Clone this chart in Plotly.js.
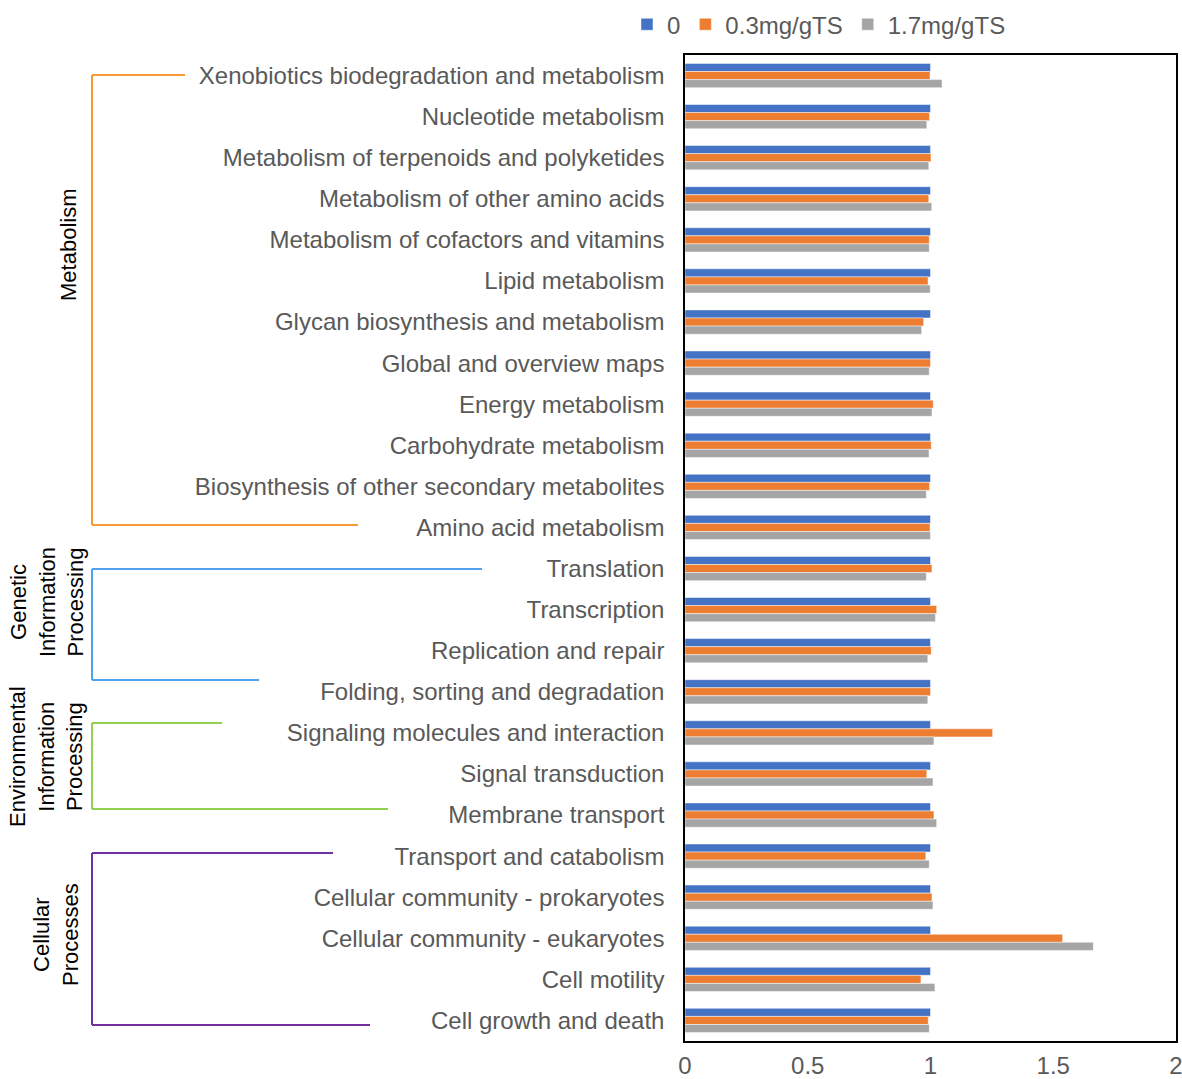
<!DOCTYPE html>
<html>
<head>
<meta charset="utf-8">
<script src="https://cdn.plot.ly/plotly-3.0.1.min.js"></script>
<style>html,body{margin:0;padding:0;background:#fff;}#chart{width:1182px;height:1079px;}</style>
</head>
<body>
<div id="chart"></div>
<script>
// KEGG level-2 pathways, listed top to bottom
const pathways = [
  "Xenobiotics biodegradation and metabolism",
  "Nucleotide metabolism",
  "Metabolism of terpenoids and polyketides",
  "Metabolism of other amino acids",
  "Metabolism of cofactors and vitamins",
  "Lipid metabolism",
  "Glycan biosynthesis and metabolism",
  "Global and overview maps",
  "Energy metabolism",
  "Carbohydrate metabolism",
  "Biosynthesis of other secondary metabolites",
  "Amino acid metabolism",
  "Translation",
  "Transcription",
  "Replication and repair",
  "Folding, sorting and degradation",
  "Signaling molecules and interaction",
  "Signal transduction",
  "Membrane transport",
  "Transport and catabolism",
  "Cellular community - prokaryotes",
  "Cellular community - eukaryotes",
  "Cell motility",
  "Cell growth and death"
];

const seriesNames = ["0", "0.3mg/gTS", "1.7mg/gTS"];

// relative abundance normalised to the control group
const control = [1,1,1,1,1,1,1,1,1,1,1,1,1,1,1,1,1,1,1,1,1,1,1,1];
const dose03 = [0.998,0.996,1.002,0.993,0.995,0.990,0.972,1.000,1.011,1.003,0.996,0.998,
                1.006,1.025,1.003,1.000,1.253,0.985,1.014,0.981,1.006,1.538,0.961,0.991];
const dose17 = [1.047,0.985,0.993,1.005,0.995,0.999,0.964,0.995,1.006,0.994,0.983,1.000,
                0.983,1.020,0.989,0.989,1.014,1.010,1.025,0.995,1.010,1.663,1.018,0.995];

const xTicks = [0, 0.5, 1, 1.5, 2];
const xTickText = ["0", "0.5", "1", "1.5", "2"];

// pathway categories with their bracket extents
const groups = ["Metabolism", "Genetic<br>Information<br>Processing",
                "Environmental<br>Information<br>Processing", "Cellular<br>Processes"];
const groupColors = ["#F79A32", "#4EA2EE", "#92D050", "#7030A0"];

const W = 1182, H = 1079;
const M = {l: 685, r: 6, t: 55, b: 38, autoexpand: false};
const pw = W - M.l - M.r, ph = H - M.t - M.b;
const px = x => (x - M.l) / pw;
const py = y => 1 - (y - M.t) / ph;

const barColors = ["#4472C4", "#ED7D31", "#A5A5A5"];
const values = [control, dose03, dose17];

const traces = values.map((v, i) => ({
  type: "bar",
  orientation: "h",
  name: seriesNames[i],
  y: pathways,
  x: v,
  marker: {color: barColors[i], line: {color: "rgba(255,255,255,0.6)", width: 0.8}},
  hoverinfo: "x+y+name"
}));

// bracket geometry in pixels: [xTopEnd, yTop, xBottomEnd, yBottom]
const brackets = [
  [185, 75, 358, 525],
  [482, 569, 259, 680],
  [222, 723, 388, 809],
  [333, 853, 370, 1025]
];
const bracketX = 92;
const labelPos = [[68, 245], [47, 602], [46, 757], [56, 935]];

const shapes = [];
brackets.forEach((b, i) => {
  const line = {color: groupColors[i], width: 2};
  shapes.push({type: "line", xref: "paper", yref: "paper", x0: px(bracketX), x1: px(b[0]), y0: py(b[1]), y1: py(b[1]), line});
  shapes.push({type: "line", xref: "paper", yref: "paper", x0: px(bracketX), x1: px(bracketX), y0: py(b[1]), y1: py(b[3]), line});
  shapes.push({type: "line", xref: "paper", yref: "paper", x0: px(bracketX), x1: px(b[2]), y0: py(b[3]), y1: py(b[3]), line});
});

const annotations = groups.map((g, i) => ({
  text: g,
  xref: "paper", yref: "paper",
  x: px(labelPos[i][0]), y: py(labelPos[i][1]),
  xanchor: "center", yanchor: "middle",
  textangle: -90,
  showarrow: false,
  font: {family: "Liberation Sans, Arial, sans-serif", size: 22, color: "#000"}
}));

const layout = {
  width: W, height: H,
  margin: M,
  paper_bgcolor: "#fff",
  plot_bgcolor: "#fff",
  barmode: "group",
  bargap: 0.41,
  bargroupgap: 0,
  font: {family: "Liberation Sans, Arial, sans-serif", size: 24, color: "#595959"},
  showlegend: true,
  legend: {
    orientation: "h",
    xref: "container", yref: "container",
    x: 627 / W, y: 0.998, xanchor: "left", yanchor: "top",
    font: {size: 24, color: "#595959"},
    itemwidth: 30,
    tracegroupgap: 0
  },
  xaxis: {
    range: [0, 2],
    tickvals: xTicks,
    ticktext: xTickText,
    showgrid: false,
    zeroline: false,
    showline: true, mirror: true, linecolor: "#000", linewidth: 1.5,
    ticks: "",
    ticklabelstandoff: 2,
    ticklabeloverflow: "allow",
    tickfont: {size: 24, color: "#595959"}
  },
  yaxis: {
    type: "category",
    autorange: "reversed",
    showgrid: false,
    zeroline: false,
    showline: true, mirror: true, linecolor: "#000", linewidth: 1.5,
    ticks: "",
    ticklabelstandoff: 14,
    tickfont: {size: 24, color: "#595959"}
  },
  shapes,
  annotations
};

Plotly.newPlot("chart", traces, layout, {displayModeBar: false});
</script>
</body>
</html>
